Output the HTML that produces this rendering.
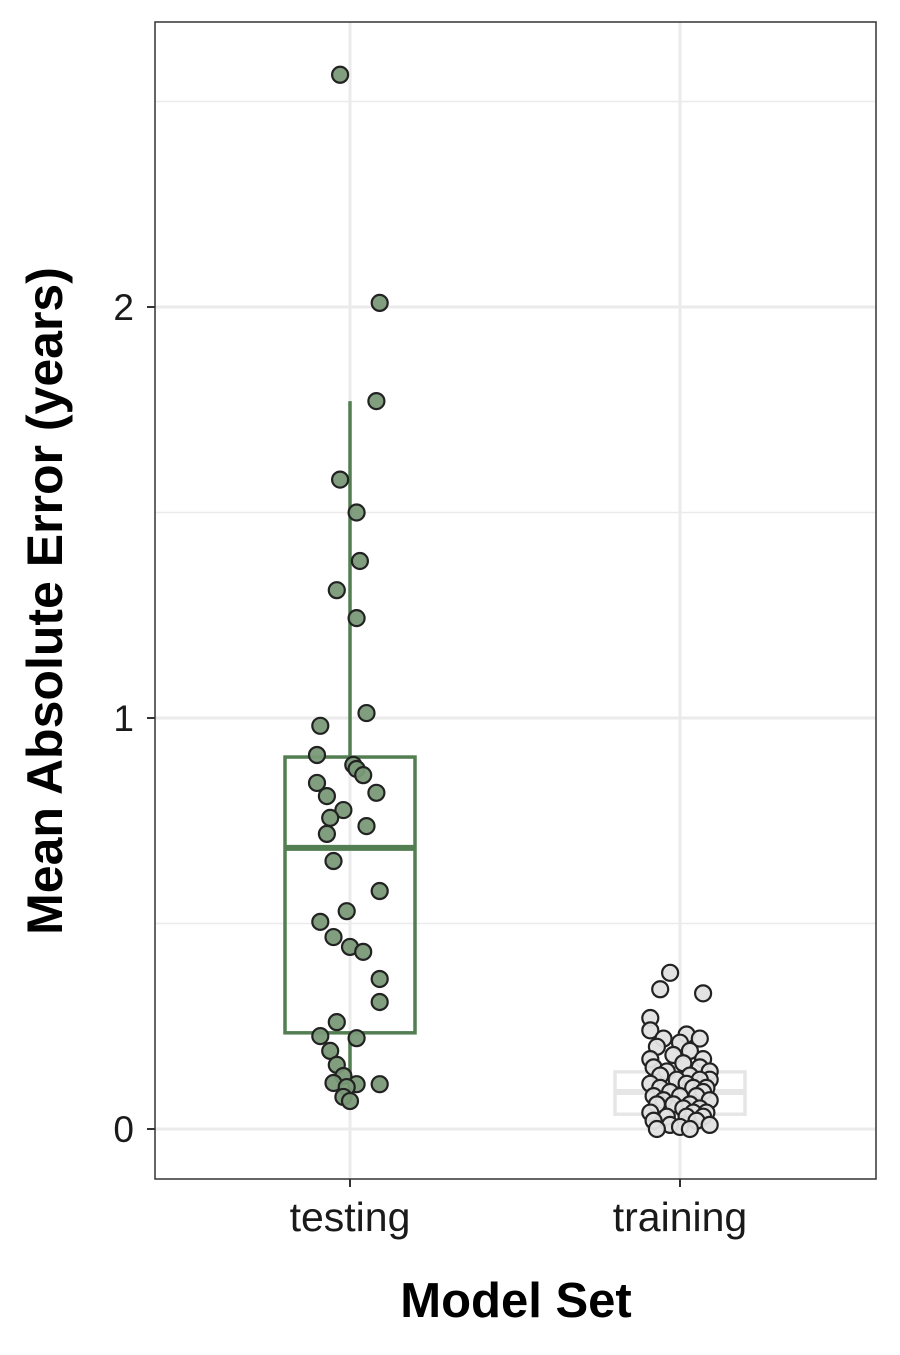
<!DOCTYPE html>
<html><head><meta charset="utf-8"><style>
body{margin:0;background:#fff;}
svg text{font-family:"Liberation Sans",Arial,sans-serif;}
</style></head><body>
<svg id="chart" width="900" height="1350" viewBox="0 0 900 1350" xmlns="http://www.w3.org/2000/svg">
<g id="grid"></g>
<g id="boxes"></g>
<g id="points"></g>
<rect x="155" y="22" width="721" height="1157" fill="none" stroke="#333" stroke-width="1.5"/>
<g id="axes"></g>
<text x="516" y="1317" text-anchor="middle" font-size="49" font-weight="bold">Model Set</text>
<text transform="translate(62,601) rotate(-90)" text-anchor="middle" font-size="50" font-weight="bold">Mean Absolute Error (years)</text>
</svg>
<script>
const categories=["testing","training"];
const yTicks=[0,1,2];
const testingValues=[2.565,2.01,1.771,1.58,1.50,1.382,1.311,1.243,1.012,0.981,0.910,0.886,0.876,0.861,0.842,0.818,0.810,0.776,0.757,0.737,0.718,0.652,0.579,0.530,0.504,0.467,0.443,0.431,0.365,0.309,0.260,0.226,0.221,0.190,0.156,0.129,0.112,0.109,0.109,0.102,0.078,0.068];
const testingJitter=[-0.03,0.09,0.08,-0.03,0.02,0.03,-0.04,0.02,0.05,-0.09,-0.1,0.01,0.02,0.04,-0.1,0.08,-0.07,-0.02,-0.06,0.05,-0.07,-0.05,0.09,-0.01,-0.09,-0.05,0,0.04,0.09,0.09,-0.04,-0.09,0.02,-0.06,-0.04,-0.02,-0.05,0.02,0.09,-0.01,-0.02,0];
const trainingValues=[0.38,0.34,0.33,0.27,0.24,0.23,0.22,0.22,0.21,0.20,0.19,0.18,0.17,0.17,0.16,0.15,0.15,0.14,0.14,0.13,0.13,0.12,0.12,0.12,0.11,0.11,0.10,0.10,0.10,0.09,0.09,0.08,0.08,0.08,0.07,0.07,0.06,0.06,0.06,0.05,0.05,0.04,0.04,0.04,0.03,0.03,0.03,0.02,0.02,0.01,0.01,0.005,0.0,0.0];
const trainingJitter=[-0.03,-0.06,0.07,-0.09,-0.09,0.02,-0.05,0.06,0.0,-0.07,0.03,-0.02,-0.09,0.07,0.01,-0.08,0.06,0.09,-0.04,0.03,-0.06,0.09,-0.01,0.06,-0.09,0.02,-0.06,0.04,0.08,-0.03,0.07,-0.08,0.0,0.05,-0.05,0.09,-0.02,0.03,-0.07,0.06,0.01,-0.09,0.04,0.08,-0.04,0.02,0.07,-0.08,0.05,-0.03,0.09,0.0,-0.07,0.03];
const testingStats=[0.068,0.234,0.684,0.905,1.771];
const trainingStats=[0.0,0.036,0.09,0.139,0.21];
const ns="http://www.w3.org/2000/svg";
const xScale=i=>350+i*330;
const yScale=v=>1129-v*411;
function mk(tag,attrs,parent){const e=document.createElementNS(ns,tag);for(const k in attrs)e.setAttribute(k,attrs[k]);parent.appendChild(e);return e;}
const grid=document.getElementById('grid'),axes=document.getElementById('axes'),boxes=document.getElementById('boxes'),pts=document.getElementById('points');
for(let v=0.5;v<2.8;v+=1){const l=mk('line',{x1:155,x2:876,y1:yScale(v),y2:yScale(v),stroke:'#ebebeb','stroke-width':1.5},grid);

}
yTicks.forEach(v=>{const l=mk('line',{x1:155,x2:876,y1:yScale(v),y2:yScale(v),stroke:'#ebebeb','stroke-width':3},grid);


const t=mk('line',{x1:147,x2:155,y1:yScale(v),y2:yScale(v),stroke:'#333','stroke-width':2},axes);


const tx=mk('text',{x:134,y:yScale(v)+13,'text-anchor':'end','font-size':37,fill:'#1a1a1a'},axes);tx.textContent=v;

});
categories.forEach((c,i)=>{const l=mk('line',{x1:xScale(i),x2:xScale(i),y1:22,y2:1179,stroke:'#ebebeb','stroke-width':3},grid);


const t=mk('line',{x1:xScale(i),x2:xScale(i),y1:1179,y2:1187,stroke:'#333','stroke-width':2},axes);


const tx=mk('text',{x:xScale(i),y:1231,'text-anchor':'middle','font-size':41,fill:'#1a1a1a'},axes);tx.textContent=c;

});
function box(i,s,col){const g=mk('g',{},boxes);


const x=xScale(i),hw=65;
mk('line',{x1:x,x2:x,y1:yScale(s[0]),y2:yScale(s[1]),stroke:col,'stroke-width':3.5},g);
mk('line',{x1:x,x2:x,y1:yScale(s[3]),y2:yScale(s[4]),stroke:col,'stroke-width':3.5},g);
mk('rect',{x:x-hw,y:yScale(s[3]),width:hw*2,height:yScale(s[1])-yScale(s[3]),fill:'none',stroke:col,'stroke-width':3.5},g);
mk('line',{x1:x-hw,x2:x+hw,y1:yScale(s[2]),y2:yScale(s[2]),stroke:col,'stroke-width':6},g);}
box(0,testingStats,'#527e52');box(1,trainingStats,'#e6e6e6');
function points(i,vals,jit,fill){vals.forEach((v,k)=>{const c=mk('circle',{cx:xScale(i)+jit[k]*330,cy:yScale(v),r:8,fill:fill,stroke:'#222','stroke-width':2.2,'fill-opacity':0.95},pts);

});}
points(0,testingValues,testingJitter,'#7a9a78');
points(1,trainingValues,trainingJitter,'#e2e2e2');
</script>
</body></html>
